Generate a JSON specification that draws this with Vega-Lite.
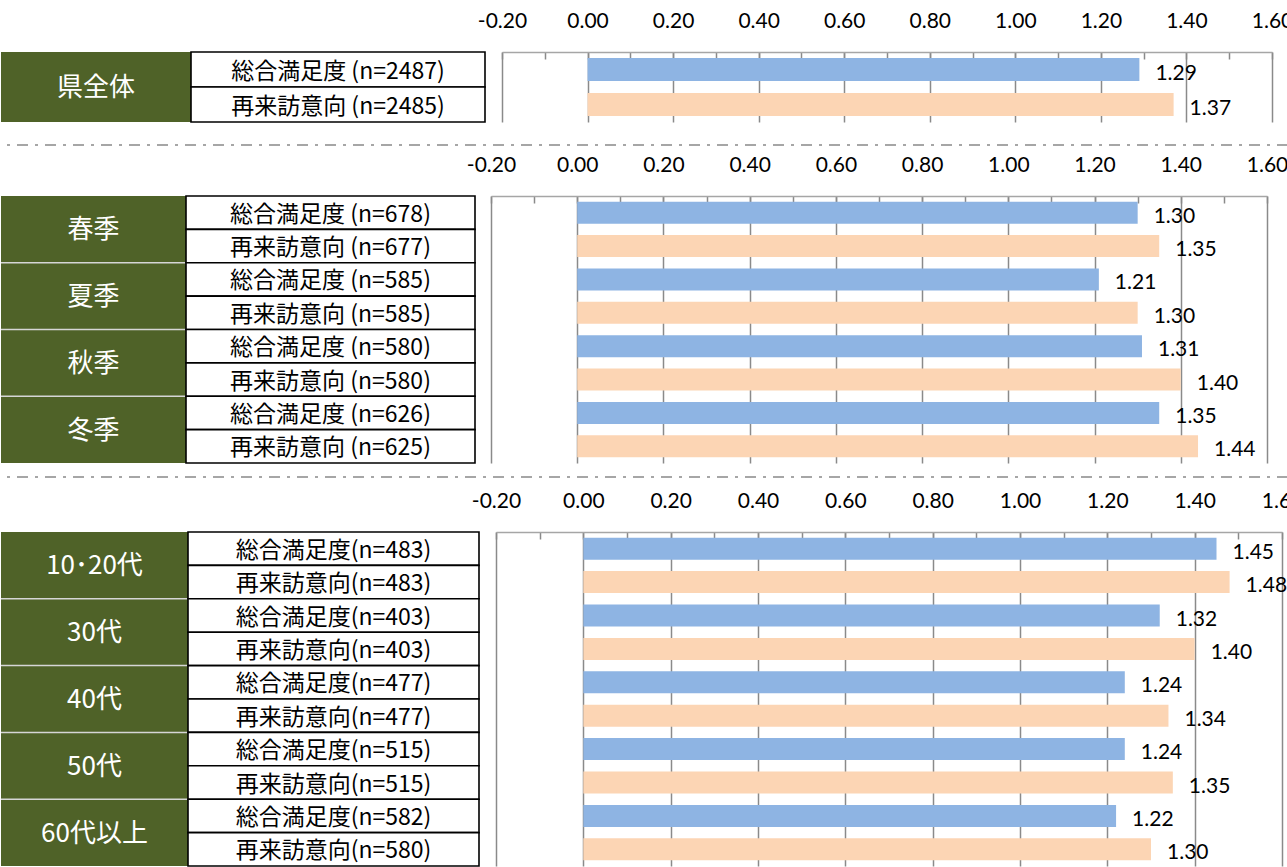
{
  "$schema": "https://vega.github.io/schema/vega-lite/v6.json",
  "padding": {"left": 0, "top": 10, "right": 0, "bottom": 0},
  "background": "white",
  "config": {"view": {"stroke": null}},
  "datasets": {
    "total": [
      {"group": "県全体", "measure": "総合満足度", "item": "総合満足度 (n=2487)", "value": 1.29},
      {"group": "県全体", "measure": "再来訪意向", "item": "再来訪意向 (n=2485)", "value": 1.37}
    ],
    "season": [
      {"group": "春季", "measure": "総合満足度", "item": "総合満足度 (n=678)", "value": 1.30},
      {"group": "春季", "measure": "再来訪意向", "item": "再来訪意向 (n=677)", "value": 1.35},
      {"group": "夏季", "measure": "総合満足度", "item": "総合満足度 (n=585)", "value": 1.21},
      {"group": "夏季", "measure": "再来訪意向", "item": "再来訪意向 (n=585)", "value": 1.30},
      {"group": "秋季", "measure": "総合満足度", "item": "総合満足度 (n=580)", "value": 1.31},
      {"group": "秋季", "measure": "再来訪意向", "item": "再来訪意向 (n=580)", "value": 1.40},
      {"group": "冬季", "measure": "総合満足度", "item": "総合満足度 (n=626)", "value": 1.35},
      {"group": "冬季", "measure": "再来訪意向", "item": "再来訪意向 (n=625)", "value": 1.44}
    ],
    "age": [
      {"group": "10･20代", "measure": "総合満足度", "item": "総合満足度(n=483)", "value": 1.45},
      {"group": "10･20代", "measure": "再来訪意向", "item": "再来訪意向(n=483)", "value": 1.48},
      {"group": "30代", "measure": "総合満足度", "item": "総合満足度(n=403)", "value": 1.32},
      {"group": "30代", "measure": "再来訪意向", "item": "再来訪意向(n=403)", "value": 1.40},
      {"group": "40代", "measure": "総合満足度", "item": "総合満足度(n=477)", "value": 1.24},
      {"group": "40代", "measure": "再来訪意向", "item": "再来訪意向(n=477)", "value": 1.34},
      {"group": "50代", "measure": "総合満足度", "item": "総合満足度(n=515)", "value": 1.24},
      {"group": "50代", "measure": "再来訪意向", "item": "再来訪意向(n=515)", "value": 1.35},
      {"group": "60代以上", "measure": "総合満足度", "item": "総合満足度(n=582)", "value": 1.22},
      {"group": "60代以上", "measure": "再来訪意向", "item": "再来訪意向(n=580)", "value": 1.30}
    ]
  },
  "spacing": 7,
  "vconcat": [
    {
      "spacing": 0,
      "bounds": "flush",
      "hconcat": [
        {
          "width": 190, "height": 70,
          "data": {"name": "total"},
          "transform": [{"filter": "datum.measure == '総合満足度'"}],
          "layer": [
            {"mark": {"type": "rect", "fill": "#4F6228"},
             "encoding": {"y": {"field": "group", "type": "nominal", "sort": null, "scale": {"paddingInner": 0, "paddingOuter": 0}, "axis": null}}},
            {"mark": {"type": "text", "color": "white", "font": "Noto Sans CJK JP", "fontSize": 26, "dy": 1},
             "encoding": {"y": {"field": "group", "type": "nominal", "sort": null, "axis": null}, "text": {"field": "group"}}}
          ]
        },
        {
          "width": 294, "height": 70,
          "data": {"name": "total"},
          "layer": [
            {"mark": {"type": "rect", "fill": "white", "stroke": "black", "strokeWidth": 1.6},
             "encoding": {"y": {"field": "item", "type": "nominal", "sort": null, "scale": {"paddingInner": 0, "paddingOuter": 0}, "axis": null}}},
            {"mark": {"type": "text", "color": "black", "font": "Noto Sans CJK JP", "fontSize": 23, "dy": 2},
             "encoding": {"y": {"field": "item", "type": "nominal", "sort": null, "axis": null}, "text": {"field": "item"}}}
          ]
        },
        {
          "width": 787, "height": 70,
          "data": {"name": "total"},
          "encoding": {
            "y": {"field": "item", "type": "nominal", "sort": null, "scale": {"paddingInner": 0.34, "paddingOuter": 0.17}, "axis": null},
            "x": {"field": "value", "type": "quantitative",
                  "scale": {"domain": [-0.2, 1.6], "range": [17, 787], "nice": false},
                  "axis": {"orient": "top", "title": null,
                           "values": [-0.2, -0.1, 0, 0.1, 0.2, 0.3, 0.4, 0.5, 0.6, 0.7, 0.8, 0.9, 1, 1.1, 1.2, 1.3, 1.4, 1.5, 1.6],
                           "labelExpr": "round(datum.value*10) % 2 == 0 ? replace(format(datum.value, '.2f'), '−', '-') : ''",
                           "labelFont": "Lato", "labelFontSize": 21, "labelColor": "black", "labelPadding": 28,
                           "labelOverlap": false, "labelFlush": false, "labelBound": false,
                           "tickSize": -7, "tickColor": "#8A8A8A", "tickWidth": 1.5,
                           "domainColor": "#A6A6A6", "domainWidth": 1.5,
                           "grid": true, "gridColor": "#8A8A8A", "gridWidth": 1.5,
                           "gridOpacity": {"condition": {"test": "round(datum.value*10) % 2 == 0", "value": 1}, "value": 0}}}
          },
          "layer": [
            {"mark": {"type": "bar"},
             "encoding": {"color": {"field": "measure", "type": "nominal", "scale": {"domain": ["総合満足度", "再来訪意向"], "range": ["#8EB4E3", "#FCD5B4"]}, "legend": null}}},
            {"mark": {"type": "text", "align": "left", "baseline": "middle", "dx": 16, "dy": 4, "font": "Lato", "fontSize": 21, "color": "black"},
             "encoding": {"text": {"field": "value", "type": "quantitative", "format": ".2f"}}}
          ]
        }
      ]
    },
    {
      "width": 1287, "height": 16,
      "data": {"values": [{}]},
      "mark": {"type": "rule", "color": "#A6A6A6", "strokeWidth": 2, "strokeDash": [11, 7, 3, 7]},
      "encoding": {"y": {"datum": 0.06, "type": "quantitative", "scale": {"domain": [0, 1]}, "axis": null}}
    },
    {
      "spacing": 0,
      "bounds": "flush",
      "hconcat": [
        {
          "width": 185, "height": 267,
          "data": {"name": "season"},
          "layer": [
            {"transform": [{"filter": "datum.measure == '総合満足度'"}],
             "mark": {"type": "rect", "fill": "#4F6228"},
             "encoding": {"y": {"field": "group", "type": "nominal", "sort": null, "scale": {"domain": ["春季", "夏季", "秋季", "冬季"], "paddingInner": 0, "paddingOuter": 0}, "axis": null}}},
            {"transform": [{"window": [{"op": "row_number", "as": "rn"}]}, {"filter": "datum.rn > 1 && datum.measure == '総合満足度'"}],
             "mark": {"type": "rule", "color": "#D6D6D6", "strokeWidth": 1.5},
             "encoding": {"y": {"field": "group", "type": "nominal", "sort": null, "bandPosition": 0, "axis": null}}},
            {"transform": [{"filter": "datum.measure == '総合満足度'"}],
             "mark": {"type": "text", "color": "white", "font": "Noto Sans CJK JP", "fontSize": 26, "dy": 1},
             "encoding": {"y": {"field": "group", "type": "nominal", "sort": null, "axis": null}, "text": {"field": "group"}}}
          ]
        },
        {
          "width": 289, "height": 267,
          "data": {"name": "season"},
          "layer": [
            {"mark": {"type": "rect", "fill": "white", "stroke": "black", "strokeWidth": 1.6},
             "encoding": {"y": {"field": "item", "type": "nominal", "sort": null, "scale": {"paddingInner": 0, "paddingOuter": 0}, "axis": null}}},
            {"mark": {"type": "text", "color": "black", "font": "Noto Sans CJK JP", "fontSize": 23, "dy": 2},
             "encoding": {"y": {"field": "item", "type": "nominal", "sort": null, "axis": null}, "text": {"field": "item"}}}
          ]
        },
        {
          "width": 792, "height": 267,
          "data": {"name": "season"},
          "encoding": {
            "y": {"field": "item", "type": "nominal", "sort": null, "scale": {"paddingInner": 0.34, "paddingOuter": 0.17}, "axis": null},
            "x": {"field": "value", "type": "quantitative",
                  "scale": {"domain": [-0.2, 1.6], "range": [16, 792], "nice": false},
                  "axis": {"orient": "top", "title": null,
                           "values": [-0.2, -0.1, 0, 0.1, 0.2, 0.3, 0.4, 0.5, 0.6, 0.7, 0.8, 0.9, 1, 1.1, 1.2, 1.3, 1.4, 1.5, 1.6],
                           "labelExpr": "round(datum.value*10) % 2 == 0 ? replace(format(datum.value, '.2f'), '−', '-') : ''",
                           "labelFont": "Lato", "labelFontSize": 21, "labelColor": "black", "labelPadding": 28,
                           "labelOverlap": false, "labelFlush": false, "labelBound": false,
                           "tickSize": -7, "tickColor": "#8A8A8A", "tickWidth": 1.5,
                           "domainColor": "#A6A6A6", "domainWidth": 1.5,
                           "grid": true, "gridColor": "#8A8A8A", "gridWidth": 1.5,
                           "gridOpacity": {"condition": {"test": "round(datum.value*10) % 2 == 0", "value": 1}, "value": 0}}}
          },
          "layer": [
            {"mark": {"type": "bar"},
             "encoding": {"color": {"field": "measure", "type": "nominal", "scale": {"domain": ["総合満足度", "再来訪意向"], "range": ["#8EB4E3", "#FCD5B4"]}, "legend": null}}},
            {"mark": {"type": "text", "align": "left", "baseline": "middle", "dx": 16, "dy": 4, "font": "Lato", "fontSize": 21, "color": "black"},
             "encoding": {"text": {"field": "value", "type": "quantitative", "format": ".2f"}}}
          ]
        }
      ]
    },
    {
      "width": 1287, "height": 12,
      "data": {"values": [{}]},
      "mark": {"type": "rule", "color": "#A6A6A6", "strokeWidth": 2, "strokeDash": [11, 7, 3, 7]},
      "encoding": {"y": {"datum": 0.5, "type": "quantitative", "scale": {"domain": [0, 1]}, "axis": null}}
    },
    {
      "spacing": 0,
      "bounds": "flush",
      "hconcat": [
        {
          "width": 187, "height": 334,
          "data": {"name": "age"},
          "layer": [
            {"transform": [{"filter": "datum.measure == '総合満足度'"}],
             "mark": {"type": "rect", "fill": "#4F6228"},
             "encoding": {"y": {"field": "group", "type": "nominal", "sort": null, "scale": {"domain": ["10･20代", "30代", "40代", "50代", "60代以上"], "paddingInner": 0, "paddingOuter": 0}, "axis": null}}},
            {"transform": [{"window": [{"op": "row_number", "as": "rn"}]}, {"filter": "datum.rn > 1 && datum.measure == '総合満足度'"}],
             "mark": {"type": "rule", "color": "#D6D6D6", "strokeWidth": 1.5},
             "encoding": {"y": {"field": "group", "type": "nominal", "sort": null, "bandPosition": 0, "axis": null}}},
            {"transform": [{"filter": "datum.measure == '総合満足度'"}],
             "mark": {"type": "text", "color": "white", "font": "Noto Sans CJK JP", "fontSize": 26, "dy": 1},
             "encoding": {"y": {"field": "group", "type": "nominal", "sort": null, "axis": null}, "text": {"field": "group"}}}
          ]
        },
        {
          "width": 291, "height": 334,
          "data": {"name": "age"},
          "layer": [
            {"mark": {"type": "rect", "fill": "white", "stroke": "black", "strokeWidth": 1.6},
             "encoding": {"y": {"field": "item", "type": "nominal", "sort": null, "scale": {"paddingInner": 0, "paddingOuter": 0}, "axis": null}}},
            {"mark": {"type": "text", "color": "black", "font": "Noto Sans CJK JP", "fontSize": 23, "dy": 2},
             "encoding": {"y": {"field": "item", "type": "nominal", "sort": null, "axis": null}, "text": {"field": "item"}}}
          ]
        },
        {
          "width": 803, "height": 334,
          "data": {"name": "age"},
          "encoding": {
            "y": {"field": "item", "type": "nominal", "sort": null, "scale": {"paddingInner": 0.34, "paddingOuter": 0.17}, "axis": null},
            "x": {"field": "value", "type": "quantitative",
                  "scale": {"domain": [-0.2, 1.6], "range": [17, 803], "nice": false},
                  "axis": {"orient": "top", "title": null,
                           "values": [-0.2, -0.1, 0, 0.1, 0.2, 0.3, 0.4, 0.5, 0.6, 0.7, 0.8, 0.9, 1, 1.1, 1.2, 1.3, 1.4, 1.5, 1.6],
                           "labelExpr": "round(datum.value*10) % 2 == 0 ? replace(format(datum.value, '.2f'), '−', '-') : ''",
                           "labelFont": "Lato", "labelFontSize": 21, "labelColor": "black", "labelPadding": 28,
                           "labelOverlap": false, "labelFlush": false, "labelBound": false,
                           "tickSize": -7, "tickColor": "#8A8A8A", "tickWidth": 1.5,
                           "domainColor": "#A6A6A6", "domainWidth": 1.5,
                           "grid": true, "gridColor": "#8A8A8A", "gridWidth": 1.5,
                           "gridOpacity": {"condition": {"test": "round(datum.value*10) % 2 == 0", "value": 1}, "value": 0}}}
          },
          "layer": [
            {"mark": {"type": "bar"},
             "encoding": {"color": {"field": "measure", "type": "nominal", "scale": {"domain": ["総合満足度", "再来訪意向"], "range": ["#8EB4E3", "#FCD5B4"]}, "legend": null}}},
            {"mark": {"type": "text", "align": "left", "baseline": "middle", "dx": 16, "dy": 4, "font": "Lato", "fontSize": 21, "color": "black"},
             "encoding": {"text": {"field": "value", "type": "quantitative", "format": ".2f"}}}
          ]
        }
      ]
    }
  ]
}
